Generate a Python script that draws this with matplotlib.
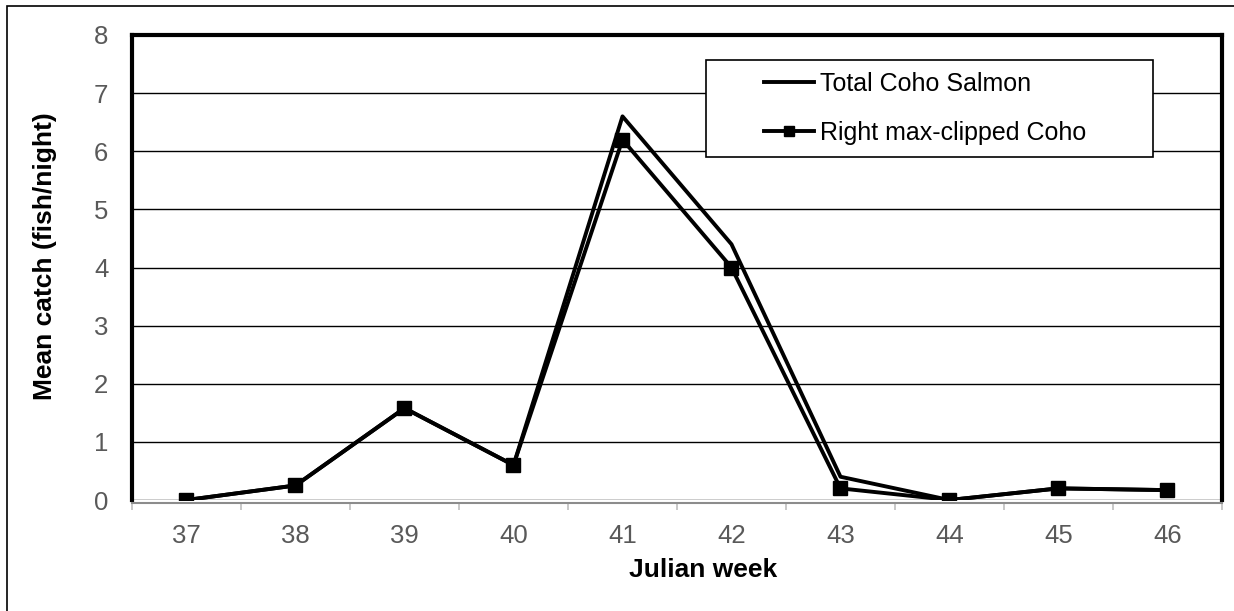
import matplotlib.pyplot as plt
from matplotlib.patches import Rectangle

plt.rcParams['font.family'] = ['Liberation Sans', 'DejaVu Sans']

weeks = [37, 38, 39, 40, 41, 42, 43, 44, 45, 46]
total_coho = [0, 0.25, 1.58, 0.6, 6.6, 4.4, 0.4, 0, 0.2, 0.17]
clipped_coho = [0, 0.25, 1.58, 0.6, 6.2, 4.0, 0.2, 0, 0.2, 0.17]
y_ticks = [0, 1, 2, 3, 4, 5, 6, 7, 8]

W, H = 1234, 611
fig = plt.figure(figsize=(W / 100, H / 100), dpi=100)
ax = fig.add_axes([132 / W, 1 - 500 / H, (1222 - 132) / W, (500 - 35) / H])

# grid lines
for v in y_ticks[:-1]:
    ax.axhline(v, color='black', lw=1.0, zorder=1)

l1, = ax.plot(weeks, total_coho, color='black', lw=2.8, zorder=3,
              label='Total Coho Salmon')
l2, = ax.plot(weeks, clipped_coho, color='black', lw=2.8, marker='s',
              markersize=10, zorder=4, label='Right max-clipped Coho')

ax.set_xlim(36.5, 46.5)
ax.set_ylim(0, 8)
ax.set_yticks(y_ticks)
ax.tick_params(axis='y', length=0, pad=17, labelsize=18.5, labelcolor='#595959')

ax.set_xticks([w - 0.5 for w in weeks] + [46.5])
ax.set_xticklabels([])
ax.set_xticks(weeks, minor=True)
ax.set_xticklabels([str(w) for w in weeks], minor=True)
ax.tick_params(axis='x', which='major', length=5, width=1.2, color='#bfbfbf')
ax.tick_params(axis='x', which='minor', length=0, pad=15, labelsize=18.5,
               labelcolor='#595959')

for s in ['left', 'top', 'right']:
    ax.spines[s].set_linewidth(3)
    ax.spines[s].set_color('black')
ax.spines['bottom'].set_color('#8c8c8c')
ax.spines['bottom'].set_linewidth(1.5)
ax.spines['bottom'].set_position(('outward', 2))

fig.text(703 / W, 1 - 570 / H, 'Julian week', ha='center', va='center',
         fontsize=19, fontweight='bold')
fig.text(45 / W, 1 - 256 / H, 'Mean catch (fish/night)', ha='center',
         va='center', rotation=90, fontsize=19, fontweight='bold')

# legend box
fig.patches.append(Rectangle((706 / W, 1 - 157 / H), (1153 - 706) / W,
                             (157 - 60) / H, transform=fig.transFigure,
                             facecolor='white', edgecolor='black', lw=1.2,
                             zorder=5))
leg = fig.legend(handles=[l1, l2], loc='upper left', frameon=False,
                 bbox_to_anchor=(764 / W, 1 - 72 / H), borderpad=0,
                 borderaxespad=0, handlelength=2.0, handletextpad=0.25,
                 labelspacing=1.0, fontsize=18, markerscale=0.75)
leg.set_zorder(6)

fig.patches.append(Rectangle((7 / W, -0.1), 1.2, 1 - 6 / H + 0.1,
                             transform=fig.transFigure, fill=False,
                             edgecolor='black', lw=1.2))

fig.savefig('out.png', dpi=100)
